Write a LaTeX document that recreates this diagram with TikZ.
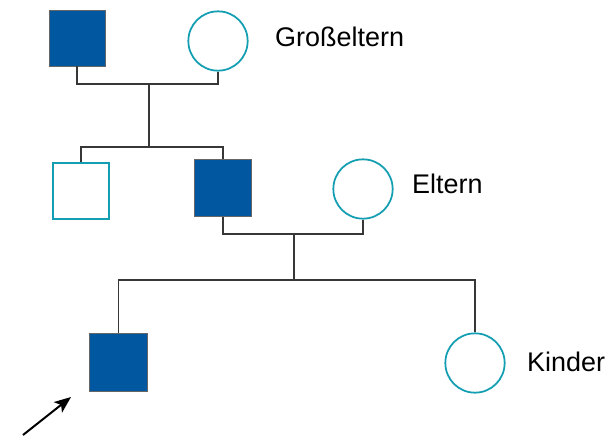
\documentclass[tikz,border=0pt]{standalone}
\usepackage{fontspec}
\setmainfont{Liberation Sans}
\usepackage{tikz}
\usepackage{xcolor}
\usetikzlibrary{arrows.meta, positioning, calc}

\definecolor{affblue}{RGB}{2,88,160}
\definecolor{healthy}{RGB}{20,158,178}
\definecolor{linegray}{RGB}{55,55,55}

\begin{document}
\begin{tikzpicture}[x=0.03cm, y=-0.03cm,
    male/.style={rectangle, minimum size=1.7cm, inner sep=0pt},
    female/.style={circle, minimum size=1.78cm, inner sep=0pt},
    affected/.style={fill=affblue, draw=gray!80!black, line width=0.6pt},
    unaffected/.style={fill=white, draw=healthy, line width=1.5pt},
    kinship/.style={draw=linegray, line width=1pt},
    gen/.style={anchor=west, inner sep=0pt, font=\fontsize{23}{27}\selectfont}]
\useasboundingbox (0,0) rectangle (613,438);

% Grandparents
\node[male, affected, minimum size=1.68cm] (grandpa) at (77,38) {};
\node[female, unaffected] (grandma) at (218,41) {};
\node[gen] (lblGP) at (275,37) {Großeltern};

% Parents' generation
\node[male, unaffected, minimum size=1.68cm] (uncle) at (81,191) {};
\node[male, affected] (father) at (223,188) {};
\node[female, unaffected] (mother) at (363,189) {};
\node[gen] (lblP) at (412,184) {Eltern};

% Children
\node[male, affected, minimum size=1.74cm] (proband) at (118.5,362) {};
\node[female, unaffected] (daughter) at (475,363) {};
\node[gen] (lblK) at (527,362) {Kinder};

% Lines of descent
\coordinate (gpMate) at (149,84);
\coordinate (gpKids) at (149,147);
\coordinate (pMate) at (294,234);
\coordinate (pKids) at (294,280);

\draw[kinship] (grandpa.south) |- (gpMate) -| (grandma.south);
\draw[kinship] (gpMate) -- (gpKids);
\draw[kinship] (uncle.north) |- (gpKids) -| (father.north);
\draw[kinship] (father.south) |- (pMate) -| (mother.south);
\draw[kinship] (pMate) -- (pKids);
\draw[kinship] (proband.north) |- (pKids) -| (daughter.north);

% Index person
\coordinate (arrTail) at (23,435);
\coordinate (arrTip) at (71,397);
\draw[-{Stealth[length=0.5cm, width=0.4cm, inset=0.12cm]}, line width=1.7pt] (arrTail) -- (arrTip);
\end{tikzpicture}
\end{document}
